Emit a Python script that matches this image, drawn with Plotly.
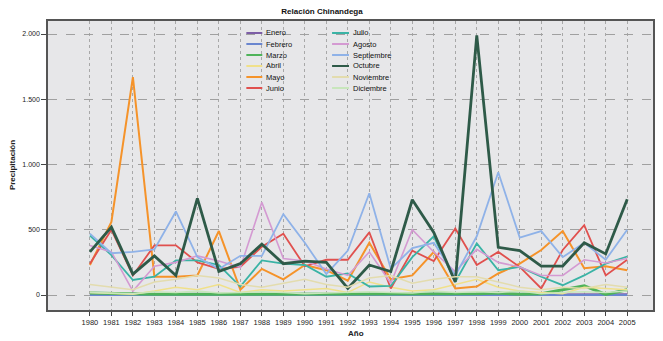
import plotly.graph_objects as go

years = [str(y) for y in range(1980, 2006)]

enero = [5, 0, 10, 5, 0, 0, 5, 5, 10, 5, 5, 0, 0, 5, 5, 0, 5, 0, 5, 5, 0, 5, 5, 5, 0, 5]
febrero = [0, 0, 5, 0, 0, 0, 0, 5, 0, 0, 0, 0, 5, 0, 0, 0, 0, 0, 0, 0, 0, 0, 0, 0, 0, 0]
marzo = [15, 10, 5, 5, 5, 5, 10, 5, 5, 10, 5, 5, 10, 5, 5, 5, 10, 5, 10, 15, 5, 10, 40, 70, 5, 40]
abril = [20, 10, 5, 30, 60, 40, 80, 20, 40, 30, 40, 50, 20, 100, 60, 30, 40, 80, 120, 60, 30, 20, 10, 60, 50, 40]
mayo = [230, 560, 1670, 140, 140, 150, 490, 40, 200, 120, 230, 190, 110, 400, 120, 150, 330, 50, 65, 165, 240, 345, 490, 205, 220, 190]
junio = [240, 500, 150, 380, 380, 250, 200, 215, 370, 470, 220, 270, 270, 480, 50, 340, 260, 510, 230, 330, 215, 50, 345, 535, 150, 270]
julio = [455, 305, 115, 140, 265, 265, 230, 65, 265, 240, 230, 140, 165, 65, 70, 290, 450, 100, 395, 190, 215, 140, 75, 150, 240, 295]
agosto = [380, 330, 30, 220, 250, 300, 260, 210, 710, 280, 260, 200, 150, 330, 90, 500, 330, 180, 350, 250, 215, 150, 150, 270, 245, 280]
septiembre = [470, 320, 330, 350, 640, 290, 200, 300, 300, 620, 400, 160, 340, 780, 200, 360, 400, 150, 450, 940, 440, 490, 290, 400, 270, 500]
octubre = [330, 520, 160, 300, 150, 740, 180, 240, 390, 240, 260, 250, 50, 230, 180, 730, 480, 100, 1990, 365, 340, 222, 222, 400, 315, 733]
noviembre = [80, 60, 40, 100, 120, 150, 130, 80, 60, 90, 120, 80, 60, 130, 150, 90, 120, 140, 140, 100, 60, 40, 60, 50, 80, 60]
diciembre = [20, 15, 10, 25, 20, 30, 15, 20, 25, 20, 10, 15, 20, 25, 20, 15, 30, 20, 25, 20, 30, 10, 20, 25, 20, 30]

month_names = ["Enero", "Febrero", "Marzo", "Abril", "Mayo", "Junio",
               "Julio", "Agosto", "Septiembre", "Octubre", "Noviembre", "Diciembre"]
month_values = [enero, febrero, marzo, abril, mayo, junio,
                julio, agosto, septiembre, octubre, noviembre, diciembre]
colors = ["#7d5ea6", "#6a86cf", "#4fb35a", "#f0e08a", "#f5932a", "#e0504e",
          "#3ab3a5", "#d49ad2", "#8fb2e8", "#2e5a48", "#e3dcae", "#c8e6bc"]
widths = [2, 2, 3, 1.5, 2, 1.8, 1.8, 1.6, 1.8, 2.8, 1.5, 1.5]

y_tickvals = [0, 500, 1000, 1500, 2000]
y_ticktext = ["0", "500", "1.000", "1.500", "2.000"]

# page body adds an 8px offset; figure is sized to fit the window
OFF = 8
W, H = 663 - OFF, 341 - OFF
ML, MR, MT, MB = 48 - OFF, 8, 21 - OFF, 31
PW, PH = W - ML - MR, H - MT - MB

def px(x):
    return (x - OFF - ML) / PW

def py(y):
    return 1 - (y - OFF - MT) / PH

FONT = "Arial, Liberation Sans, sans-serif"

fig = go.Figure()
for name, vals, c, w in zip(month_names, month_values, colors, widths):
    fig.add_trace(go.Scatter(x=years, y=vals, mode="lines", name=name,
                             line=dict(color=c, width=w), showlegend=False))

shapes = []
annotations = []
for i, (name, c) in enumerate(zip(month_names, colors)):
    col, row = divmod(i, 6)
    yy = 33 + 11 * row
    x0, x1, xt = (247, 263, 265) if col == 0 else (333, 350, 352)
    shapes.append(dict(type="line", xref="paper", yref="paper",
                       x0=px(x0), x1=px(x1), y0=py(yy), y1=py(yy),
                       line=dict(color=c, width=2)))
    annotations.append(dict(text=name, xref="paper", yref="paper",
                            x=px(xt), y=py(yy), xanchor="left", yanchor="middle",
                            showarrow=False, font=dict(size=7.5, color="#111", family=FONT)))

annotations.append(dict(text="<b>Precipitación</b>", xref="paper", yref="paper",
                        x=px(12), y=py(165), textangle=-90, showarrow=False,
                        xanchor="center", yanchor="middle",
                        font=dict(size=8, color="#222", family=FONT)))
annotations.append(dict(text="<b>Año</b>", xref="paper", yref="paper",
                        x=px(357), y=py(333), showarrow=False,
                        xanchor="center", yanchor="middle",
                        font=dict(size=8, color="#222", family=FONT)))

# y range chosen so that 0 and 2000 fall on the reference's pixel rows (295, 34)
ppu = (295 - 34) / 2000.0
y_lo = -(310 - 295) / ppu
y_hi = (295 - 21) / ppu

fig.update_layout(
    width=W, height=H,
    margin=dict(l=ML, r=MR, t=MT, b=MB, pad=0),
    paper_bgcolor="white",
    plot_bgcolor="#e7e7e9",
    title=dict(text="<b>Relación Chinandega</b>", x=(322 - OFF) / W, xanchor="center",
               y=1.0, yanchor="top", yref="container",
               font=dict(size=8, color="#111", family=FONT)),
    font=dict(family=FONT, size=7, color="#222"),
    shapes=shapes,
    annotations=annotations,
    showlegend=False,
)

fig.update_xaxes(
    type="category",
    range=[-1.95, 26.2],
    showgrid=True, gridcolor="#a8a8a8", griddash="dot", gridwidth=1,
    showline=True, linecolor="#555", linewidth=1.5, mirror=True,
    ticks="outside", ticklen=4, tickcolor="#444",
    tickfont=dict(size=7.5, color="#222"),
    tickangle=0,
    zeroline=False,
)
fig.update_yaxes(
    range=[y_lo, y_hi],
    tickvals=y_tickvals, ticktext=y_ticktext,
    showgrid=True, gridcolor="#a0a0a0", griddash="dash", gridwidth=1,
    showline=True, linecolor="#555", linewidth=1.5, mirror=True,
    ticks="outside", ticklen=5, tickcolor="#444",
    tickfont=dict(size=7, color="#222"),
    zeroline=False,
)

fig.write_html("out.html")
